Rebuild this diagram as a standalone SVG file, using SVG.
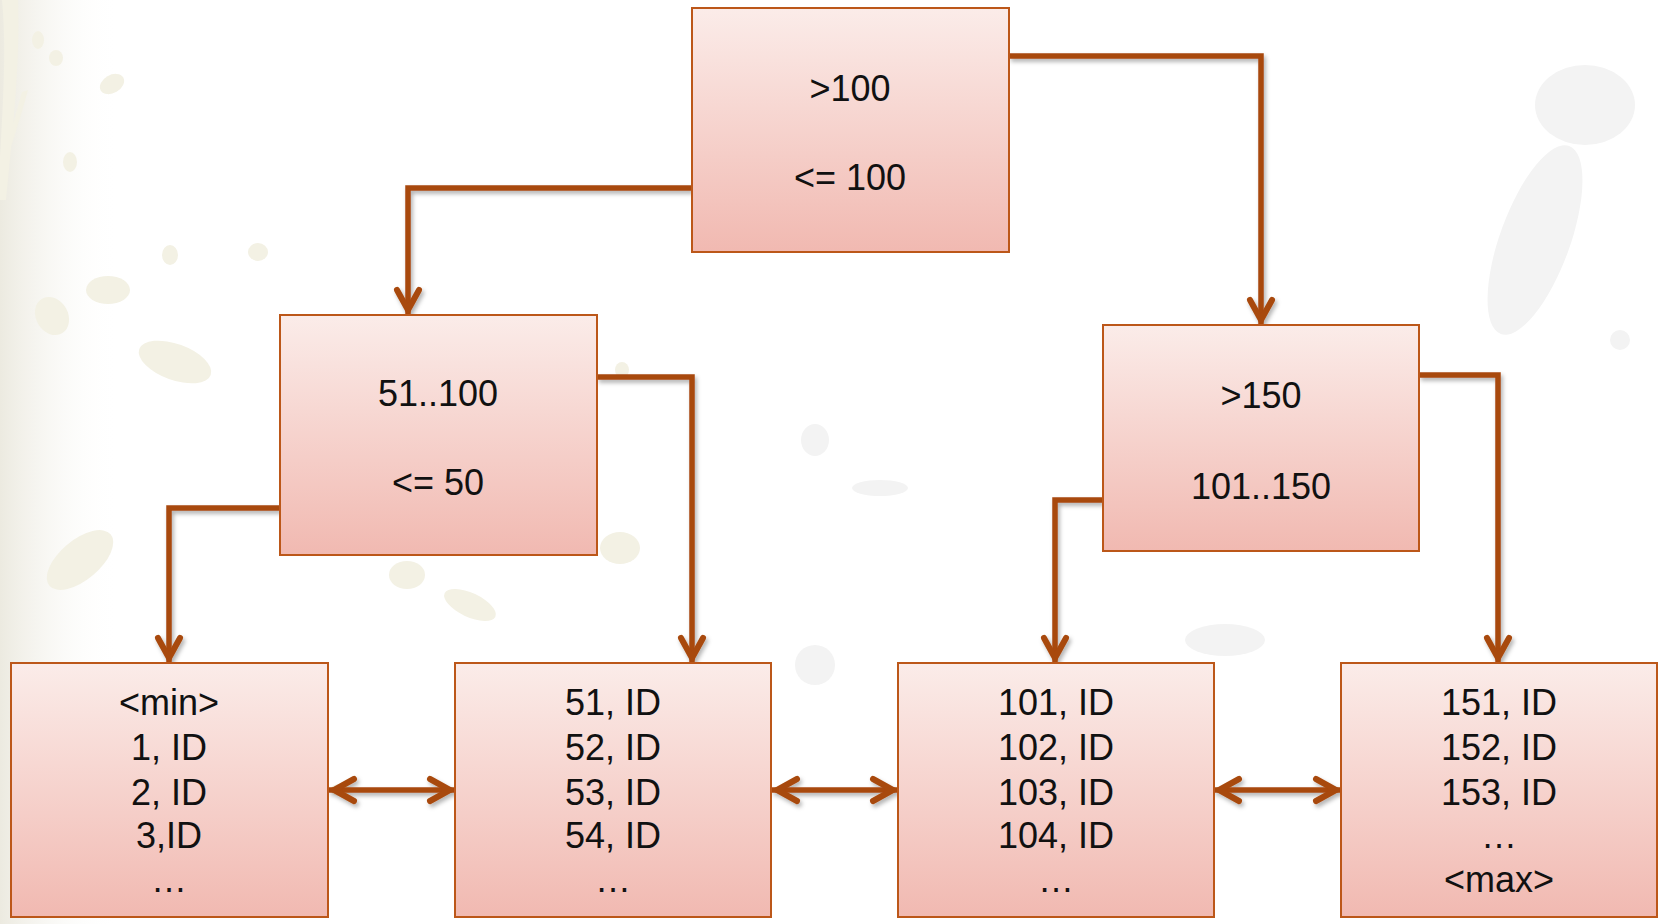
<svg xmlns="http://www.w3.org/2000/svg" width="1658" height="924" viewBox="0 0 1658 924">
  <style>
    .box { stroke: #BC5719; stroke-width: 2; fill: url(#boxFill); }
    .lbl { font-family: "Liberation Sans", Arial, sans-serif; font-size: 36px; fill: #111; text-anchor: middle; }
    .wire { fill: none; stroke: #A8480A; stroke-width: 5.5; stroke-linejoin: miter; }
    .splat1 { fill: #F3F1E4; }
    .splat2 { fill: #F3F3F3; }
  </style>
  <defs>
    <linearGradient id="boxFill" x1="0" y1="0" x2="0" y2="1">
      <stop offset="0" stop-color="#FBECE9"/>
      <stop offset="1" stop-color="#F1B9B1"/>
    </linearGradient>
    <linearGradient id="edgeFade" x1="0" y1="0" x2="1" y2="0">
      <stop offset="0" stop-color="#ECEAE0"/>
      <stop offset="1" stop-color="#FFFFFF" stop-opacity="0"/>
    </linearGradient>
    <filter id="shadow" x="-5%" y="-5%" width="115%" height="115%">
      <feDropShadow dx="2" dy="3" stdDeviation="2" flood-color="#000" flood-opacity="0.3"/>
    </filter>
    <marker id="chev" markerUnits="userSpaceOnUse" viewBox="-32 -16 40 32" markerWidth="40" markerHeight="32" refX="0" refY="0" orient="auto-start-reverse" overflow="visible">
      <path d="M-25,-11 L-5,0 L-25,11" fill="none" stroke="#A8480A" stroke-width="6" stroke-linecap="round" stroke-linejoin="miter"/>
    </marker>
  </defs>

  <!-- page background with faint ink splatter -->
  <rect width="1658" height="924" fill="#FFFFFF"/>
  <rect width="120" height="924" fill="url(#edgeFade)"/>
  <g id="splatter">
    <path class="splat1" d="M2,0 C8,60 0,140 -2,200 L6,200 C14,120 20,60 18,0 Z"/>
    <path class="splat1" d="M0,180 C10,150 20,120 28,90 L22,92 C14,120 6,150 0,170 Z"/>
    <ellipse class="splat1" cx="38" cy="40" rx="6" ry="9"/>
    <ellipse class="splat1" cx="56" cy="58" rx="7" ry="8"/>
    <ellipse class="splat1" cx="112" cy="84" rx="13" ry="9" transform="rotate(-30 112 84)"/>
    <ellipse class="splat1" cx="70" cy="162" rx="7" ry="10"/>
    <ellipse class="splat1" cx="108" cy="290" rx="22" ry="14"/>
    <ellipse class="splat1" cx="52" cy="316" rx="16" ry="20" transform="rotate(-30 52 316)"/>
    <ellipse class="splat1" cx="175" cy="362" rx="38" ry="18" transform="rotate(20 175 362)"/>
    <ellipse class="splat1" cx="258" cy="252" rx="10" ry="9"/>
    <ellipse class="splat1" cx="170" cy="255" rx="8" ry="10"/>
    <ellipse class="splat1" cx="538" cy="330" rx="13" ry="9"/>
    <ellipse class="splat1" cx="573" cy="362" rx="10" ry="7"/>
    <ellipse class="splat1" cx="622" cy="370" rx="7" ry="8"/>
    <ellipse class="splat1" cx="407" cy="575" rx="18" ry="14"/>
    <ellipse class="splat1" cx="470" cy="605" rx="28" ry="12" transform="rotate(25 470 605)"/>
    <ellipse class="splat1" cx="620" cy="548" rx="20" ry="16"/>
    <ellipse class="splat1" cx="340" cy="790" rx="10" ry="6"/>
    <ellipse class="splat1" cx="80" cy="560" rx="40" ry="20" transform="rotate(-40 80 560)"/>
    <ellipse class="splat2" cx="815" cy="440" rx="14" ry="16"/>
    <ellipse class="splat2" cx="815" cy="665" rx="20" ry="20"/>
    <ellipse class="splat2" cx="880" cy="488" rx="28" ry="8"/>
    <ellipse class="splat2" cx="1585" cy="105" rx="50" ry="40"/>
    <ellipse class="splat2" cx="1535" cy="240" rx="35" ry="100" transform="rotate(20 1535 240)"/>
    <ellipse class="splat2" cx="1360" cy="420" rx="30" ry="60" transform="rotate(-20 1360 420)"/>
    <ellipse class="splat2" cx="1225" cy="640" rx="40" ry="16"/>
    <ellipse class="splat2" cx="1620" cy="340" rx="10" ry="10"/>
  </g>

  <!-- connectors -->
  <g id="connectors" filter="url(#shadow)">
    <path class="wire" d="M692,188 H408 V315" marker-end="url(#chev)"/>
    <path class="wire" d="M1009,56 H1261 V325" marker-end="url(#chev)"/>
    <path class="wire" d="M597,377 H692 V663" marker-end="url(#chev)"/>
    <path class="wire" d="M280,508 H169 V663" marker-end="url(#chev)"/>
    <path class="wire" d="M1419,375 H1498 V663" marker-end="url(#chev)"/>
    <path class="wire" d="M1103,500 H1055 V663" marker-end="url(#chev)"/>
    <path class="wire" d="M329,790 H455" marker-start="url(#chev)" marker-end="url(#chev)"/>
    <path class="wire" d="M772,790 H898" marker-start="url(#chev)" marker-end="url(#chev)"/>
    <path class="wire" d="M1214,790 H1341" marker-start="url(#chev)" marker-end="url(#chev)"/>
  </g>

  <!-- root node -->
  <g id="root">
    <rect class="box" x="692" y="8" width="317" height="244"/>
    <text class="lbl" x="850" y="101">&gt;100</text>
    <text class="lbl" x="850" y="190">&lt;= 100</text>
  </g>

  <!-- inner nodes -->
  <g id="inner-low">
    <rect class="box" x="280" y="315" width="317" height="240"/>
    <text class="lbl" x="438" y="406">51..100</text>
    <text class="lbl" x="438" y="495">&lt;= 50</text>
  </g>
  <g id="inner-high">
    <rect class="box" x="1103" y="325" width="316" height="226"/>
    <text class="lbl" x="1261" y="408">&gt;150</text>
    <text class="lbl" x="1261" y="499">101..150</text>
  </g>

  <!-- leaf nodes -->
  <g id="leaf-1">
    <rect class="box" x="11" y="663" width="317" height="254"/>
    <text class="lbl" x="169" y="715">&lt;min&gt;</text>
    <text class="lbl" x="169" y="760">1, ID</text>
    <text class="lbl" x="169" y="805">2, ID</text>
    <text class="lbl" x="169" y="848">3,ID</text>
    <text class="lbl" x="169" y="892">…</text>
  </g>
  <g id="leaf-2">
    <rect class="box" x="455" y="663" width="316" height="254"/>
    <text class="lbl" x="613" y="715">51, ID</text>
    <text class="lbl" x="613" y="760">52, ID</text>
    <text class="lbl" x="613" y="805">53, ID</text>
    <text class="lbl" x="613" y="848">54, ID</text>
    <text class="lbl" x="613" y="892">…</text>
  </g>
  <g id="leaf-3">
    <rect class="box" x="898" y="663" width="316" height="254"/>
    <text class="lbl" x="1056" y="715">101, ID</text>
    <text class="lbl" x="1056" y="760">102, ID</text>
    <text class="lbl" x="1056" y="805">103, ID</text>
    <text class="lbl" x="1056" y="848">104, ID</text>
    <text class="lbl" x="1056" y="892">…</text>
  </g>
  <g id="leaf-4">
    <rect class="box" x="1341" y="663" width="316" height="254"/>
    <text class="lbl" x="1499" y="715">151, ID</text>
    <text class="lbl" x="1499" y="760">152, ID</text>
    <text class="lbl" x="1499" y="805">153, ID</text>
    <text class="lbl" x="1499" y="848">…</text>
    <text class="lbl" x="1499" y="892">&lt;max&gt;</text>
  </g>
</svg>
